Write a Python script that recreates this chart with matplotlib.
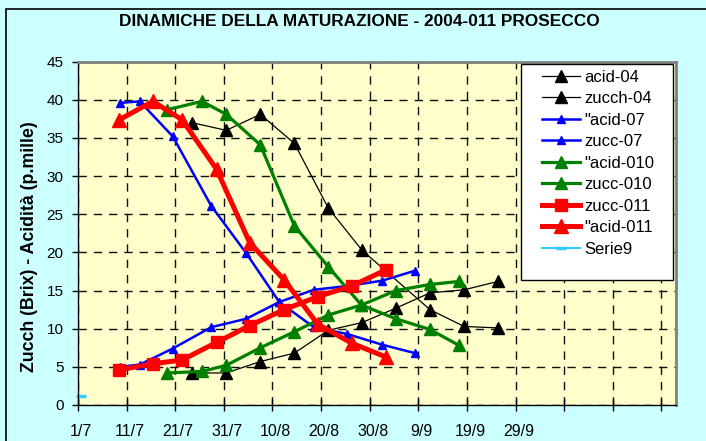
#!/usr/bin/env python3
import matplotlib as mpl
mpl.use('Agg')
import matplotlib.pyplot as plt
from matplotlib.patches import Rectangle
from matplotlib.transforms import ScaledTranslation

plt.rcParams['font.family'] = ['Liberation Sans', 'DejaVu Sans']
plt.rcParams['lines.scale_dashes'] = False

# giorni dal 1/7
acid04_days = [23.5, 30.5, 37.5, 44.5, 51.5, 58.4, 72.4, 79.4, 86.4]
acid04 = [37.0, 36.0, 38.1, 34.3, 25.8, 20.3, 12.5, 10.3, 10.1]
zucch04_days = [23.5, 30.5, 37.5, 44.5, 51.5, 58.4, 65.4, 72.4, 79.4, 86.4]
zucch04 = [4.2, 4.2, 5.7, 6.8, 9.8, 10.8, 12.7, 14.7, 15.1, 16.2]

days07 = [8.6, 12.7, 19.5, 27.4, 34.6, 41.4, 48.5, 55.4, 62.6, 69.3]
acid07 = [39.6, 39.8, 35.2, 26.1, 19.9, 13.5, 10.2, 9.3, 7.9, 6.8]
zucc07 = [5.0, 5.3, 7.4, 10.2, 11.3, 13.5, 15.1, 15.6, 16.3, 17.6]

days010 = [18.3, 25.5, 30.5, 37.5, 44.5, 51.5, 58.3, 65.4, 72.4, 78.4]
acid010 = [38.7, 39.8, 38.1, 34.1, 23.5, 18.1, 13.1, 11.3, 9.9, 7.8]
zucc010 = [4.2, 4.4, 5.2, 7.5, 9.6, 11.8, 13.1, 15.0, 15.8, 16.2]

days011 = [8.5, 15.4, 21.4, 28.5, 35.3, 42.4, 49.3, 56.3, 63.3]
zucc011 = [4.6, 5.4, 5.9, 8.2, 10.4, 12.5, 14.2, 15.6, 17.7]
acid011 = [37.4, 39.8, 37.4, 30.9, 21.3, 16.4, 10.6, 8.1, 6.3]

serie9_days = [0.6]
serie9 = [1.2]

tick_days = list(range(0, 121, 10))
tick_labels = ['1/7', '11/7', '21/7', '31/7', '10/8', '20/8', '30/8', '9/9',
               '19/9', '29/9', '', '', '']

W, H = 706, 441
fig = plt.figure(figsize=(7.06, 4.41), dpi=100)
fig.patch.set_facecolor('#CCFFFF')
fig.patches.append(Rectangle((6 / W, -0.1), 1.2, 1.1 - 9 / H,
                             transform=fig.transFigure, fill=False,
                             edgecolor='black', linewidth=1.2))

ax = fig.add_axes([78 / W, 1 - 405 / H, (676 - 78) / W, (405 - 61.7) / H])
ax.set_facecolor('#FFFFCC')

ax.plot(acid04_days, acid04, color='black', lw=0.9, marker='^', ms=8, label='acid-04')
ax.plot(zucch04_days, zucch04, color='black', lw=0.9, marker='^', ms=8, label='zucch-04')
ax.plot(days07, acid07, color='#0000FF', lw=1.8, marker='^', ms=6, label='"acid-07')
ax.plot(days07, zucc07, color='#0000FF', lw=1.8, marker='^', ms=6, label='zucc-07')
ax.plot(days010, acid010, color='#008000', lw=2.3, marker='^', ms=8.5, label='"acid-010')
ax.plot(days010, zucc010, color='#008000', lw=2.3, marker='^', ms=8.5, label='zucc-010')
ax.plot(days011, zucc011, color='#FF0000', lw=3.6, marker='s', ms=8, label='zucc-011')
ax.plot(days011, acid011, color='#FF0000', lw=3.6, marker='^', ms=10, label='"acid-011')
ax.plot(serie9_days, serie9, color='#33CCFF', lw=1.5, marker='_', ms=7, mew=2.5,
        clip_on=False, label='Serie9')

ax.set_xlim(0, 123)
ax.set_ylim(0, 45)
ax.set_yticks(range(0, 46, 5))
ax.set_xticks(tick_days)
ax.set_xticklabels(tick_labels)
ax.grid(True, color='#101010', lw=1, linestyle=(0, (6, 5)))
ax.set_axisbelow(True)

ax.tick_params(axis='y', direction='out', length=4.5, width=1, pad=6, labelsize=11)
ax.tick_params(axis='x', direction='inout', length=8, width=1, pad=10, labelsize=11.5)
# etichette x un po' spostate a destra come in Excel
shift = ScaledTranslation(3 / 100, 0, fig.dpi_scale_trans)
for lab in ax.get_xticklabels():
    lab.set_transform(lab.get_transform() + shift)
for s in ['left', 'bottom']:
    ax.spines[s].set_color('black')
    ax.spines[s].set_linewidth(1)
for s in ['top', 'right']:
    ax.spines[s].set_color('#808080')
    ax.spines[s].set_linewidth(2)

fig.text(359 / W, 1 - 22 / H, 'DINAMICHE DELLA MATURAZIONE - 2004-011 PROSECCO',
         ha='center', va='center', fontsize=12.4, fontweight='bold')
fig.text(30 / W, 1 - 247 / H, 'Zucch (Brix) - Acidità (p.mille)',
         ha='center', va='center', rotation=90, fontsize=12.8, fontweight='bold')

# riquadro della legenda
box = Rectangle((520.7 / W, 1 - 280 / H), (672.7 - 520.7) / W, (280 - 64) / H,
                transform=fig.transFigure, facecolor='white', edgecolor='black',
                linewidth=1, zorder=4.9, clip_on=False)
ax.add_patch(box)
leg = ax.legend(loc='upper left', bbox_to_anchor=(535 / W, 1 - 63 / H),
                bbox_transform=fig.transFigure, fontsize=12, frameon=False,
                borderaxespad=0, borderpad=0.4,
                labelspacing=0.39, handlelength=2.3, handletextpad=0.25)

plt.savefig('out.png', dpi=100, facecolor=fig.get_facecolor())
